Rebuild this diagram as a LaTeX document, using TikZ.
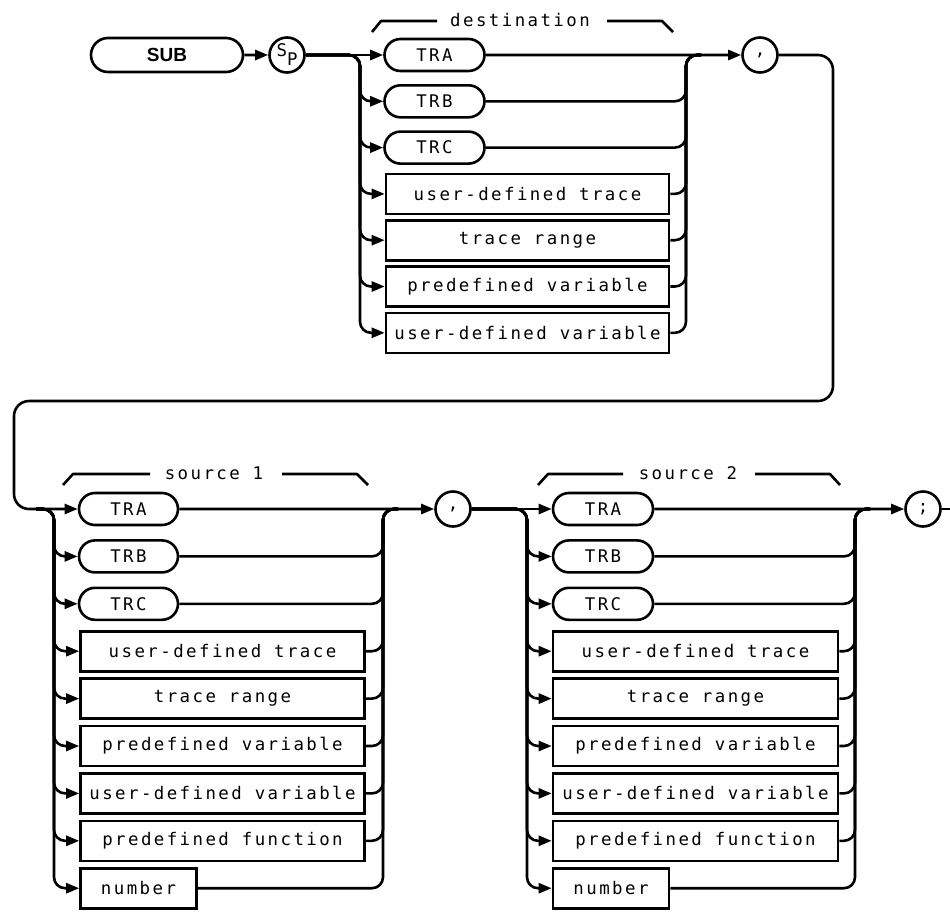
\documentclass[tikz,border=0pt]{standalone}
\usepackage{fontspec}
\usetikzlibrary{arrows.meta,shapes.misc}
\newfontfamily\hpfont[LetterSpace=14]{DejaVu Sans Mono}
\newfontfamily\subfont{Liberation Sans}
\newcommand\hptext{\hpfont\fontsize{17.4pt}{20pt}\selectfont}
\begin{document}
\begin{tikzpicture}[x=1pt,y=-1pt,
  line/.style={line width=2.6pt, line join=round},
  arr/.style={line, -{Triangle[length=13pt,width=10pt]}},
  term/.style={draw, line width=2.6pt, rounded rectangle, minimum height=32pt, minimum width=100pt, inner sep=0pt, font=\hptext},
  box/.style={draw, line width=2.6pt, rectangle, minimum height=40pt, minimum width=284pt, inner sep=0pt, font=\hptext},
  numbox/.style={box, minimum width=116pt},
  circ/.style={draw, line width=2.6pt, circle, minimum size=35pt, inner sep=0pt, font=\hptext},
  lbl/.style={font=\hptext, anchor=base, inner sep=0pt},
  brk/.style={line width=2.6pt, line join=round}]
\useasboundingbox (0,0) rectangle (950,919);

% ---------- top row: destination ----------
\node[term, minimum width=152pt, minimum height=34pt, font=\subfont\bfseries\fontsize{19pt}{22pt}\selectfont] (sub) at (167,55) {SUB};
\node[circ] (sp) at (287,55) {S\raisebox{-9pt}{P}};
\node[term] (dTRA) at (434.5,55) {TRA};
\node[term] (dTRB) at (434.5,101.3) {TRB};
\node[term] (dTRC) at (434.5,147.6) {TRC};
\node[box, minimum width=283pt] (dUDT) at (527.5,193.9) {user-defined trace};
\node[box, minimum width=283pt] (dTR)  at (527.5,240.2) {trace range};
\node[box, minimum width=283pt] (dPV)  at (527.5,286.5) {predefined variable};
\node[box, minimum width=283pt] (dUDV) at (527.5,332.8) {user-defined variable};
\node[circ] (c1) at (760,55) {,};
\coordinate (xL1) at (360,55);
\coordinate (xR1) at (686,55);

\node[lbl] (destlbl) at (520,26) {destination};
\draw[brk] (372,32) -- (381,21) -- (437,21);
\draw[brk] (607,21) -- (662,21) -- (673,32);

\draw[arr] (sub) -- (sp);
\draw[arr] (sp) -- (dTRA);
\foreach \n in {dTRB,dTRC,dUDT,dTR,dPV,dUDV}{
  \draw[arr, rounded corners=11pt] (sp.east) -| (xL1 |- \n.west) -- (\n.west);
  \draw[line, rounded corners=11pt] (\n.east) -| (xR1) -- ++(15,0);
}
\draw[arr] (dTRA) -- (c1);

% ---------- loop ----------
\coordinate (l1) at (833,55);
\coordinate (l2) at (833,401);
\coordinate (l3) at (14,401);
\coordinate (l4) at (14,509);

% ---------- source 1 ----------
\node[term, minimum width=99pt] (aTRA) at (128.5,509) {TRA};
\node[term, minimum width=99pt] (aTRB) at (128.5,556.4) {TRB};
\node[term, minimum width=99pt] (aTRC) at (128.5,603.8) {TRC};
\node[box] (aUDT) at (222.5,651.2) {user-defined trace};
\node[box] (aTR)  at (222.5,698.6) {trace range};
\node[box] (aPV)  at (222.5,746) {predefined variable};
\node[box] (aUDV) at (222.5,793.4) {user-defined variable};
\node[box] (aPF)  at (222.5,840.8) {predefined function};
\node[numbox] (aNUM) at (138.5,888.2) {number};
\node[circ] (c2) at (453,509) {,};
\coordinate (s1in) at (36,509);
\coordinate (xL2) at (54,509);
\coordinate (xR2) at (383,509);

\draw[arr, rounded corners=15pt] (c1.east) -- (l1) -- (l2) -- (l3) -- (l4) -- (aTRA.west);

\node[lbl] (s1lbl) at (214,479) {source 1};
\draw[brk] (63,485) -- (73,474) -- (150,474);
\draw[brk] (282,474) -- (357,474) -- (368,485);

\foreach \n in {aTRB,aTRC,aUDT,aTR,aPV,aUDV,aPF,aNUM}{
  \draw[arr, rounded corners=11pt] (s1in) -| (xL2 |- \n.west) -- (\n.west);
  \draw[line, rounded corners=11pt] (\n.east) -| (xR2) -- ++(15,0);
}
\draw[arr] (aTRA) -- (c2);

% ---------- source 2 ----------
\node[term] (bTRA) at (603,509) {TRA};
\node[term] (bTRB) at (603,556.4) {TRB};
\node[term] (bTRC) at (603,603.8) {TRC};
\node[box, minimum width=285pt] (bUDT) at (695.5,651.2) {user-defined trace};
\node[box, minimum width=285pt] (bTR)  at (695.5,698.6) {trace range};
\node[box, minimum width=285pt] (bPV)  at (695.5,746) {predefined variable};
\node[box, minimum width=285pt] (bUDV) at (695.5,793.4) {user-defined variable};
\node[box, minimum width=285pt] (bPF)  at (695.5,840.8) {predefined function};
\node[numbox] (bNUM) at (611,888.2) {number};
\node[circ] (semi) at (923,509) {;};
\coordinate (xL3) at (527,509);
\coordinate (xR3) at (855,509);
\coordinate (fin) at (950,509);

\node[lbl] (s2lbl) at (688,479) {source 2};
\draw[brk] (538,485) -- (548,474) -- (623,474);
\draw[brk] (755,474) -- (830,474) -- (840,485);

\draw[arr] (c2) -- (bTRA);
\foreach \n in {bTRB,bTRC,bUDT,bTR,bPV,bUDV,bPF,bNUM}{
  \draw[arr, rounded corners=11pt] (c2.east) -| (xL3 |- \n.west) -- (\n.west);
  \draw[line, rounded corners=11pt] (\n.east) -| (xR3) -- ++(15,0);
}
\draw[arr] (bTRA) -- (semi);
\draw[line] (semi.east) -- (fin);
\end{tikzpicture}
\end{document}
